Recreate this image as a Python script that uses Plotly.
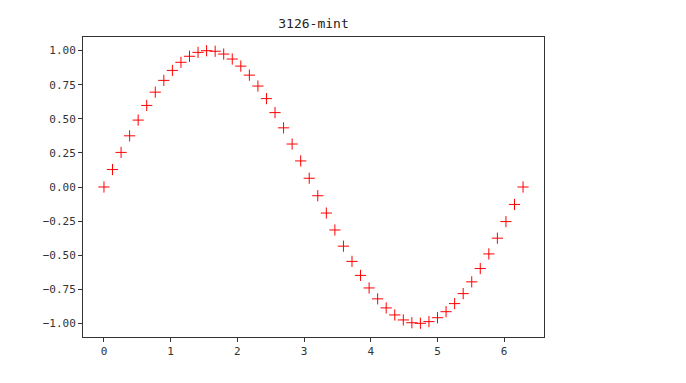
import plotly.graph_objects as go

x_vals = [0.0, 0.1282, 0.2565, 0.3847, 0.5129, 0.6411, 0.7694, 0.8976, 1.0258, 1.1541,
          1.2823, 1.4105, 1.5387, 1.6670, 1.7952, 1.9234, 2.0517, 2.1799, 2.3081, 2.4363,
          2.5646, 2.6928, 2.8210, 2.9493, 3.0775, 3.2057, 3.3339, 3.4622, 3.5904, 3.7186,
          3.8468, 3.9751, 4.1033, 4.2315, 4.3598, 4.4880, 4.6162, 4.7444, 4.8727, 5.0009,
          5.1291, 5.2574, 5.3856, 5.5138, 5.6420, 5.7703, 5.8985, 6.0267, 6.1550, 6.2832]
y_vals = [0.0, 0.1279, 0.2537, 0.3753, 0.4907, 0.5981, 0.6956, 0.7818, 0.8551, 0.9144,
          0.9587, 0.9872, 0.9995, 0.9954, 0.9749, 0.9383, 0.8866, 0.8204, 0.7402, 0.6482,
          0.5455, 0.4339, 0.3151, 0.1912, 0.0641, -0.0641, -0.1912, -0.3151, -0.4339, -0.5455,
          -0.6482, -0.7402, -0.8204, -0.8866, -0.9383, -0.9749, -0.9954, -0.9995, -0.9872, -0.9587,
          -0.9144, -0.8551, -0.7818, -0.6956, -0.5981, -0.4907, -0.3753, -0.2537, -0.1279, 0.0]
title_text = "3126-mint"
x_ticks = [0, 1, 2, 3, 4, 5, 6]
y_ticks = [-1.0, -0.75, -0.5, -0.25, 0.0, 0.25, 0.5, 0.75, 1.0]

fig = go.Figure()
fig.add_trace(go.Scatter(
    x=x_vals, y=y_vals, mode="markers",
    marker=dict(symbol="cross-thin", size=8, line=dict(color="red", width=1), color="red"),
    showlegend=False,
))

font_family = "DejaVu Sans Mono, Noto Sans CJK SC"
fig.update_layout(
    width=686, height=383,
    margin=dict(l=83, r=142, t=37, b=46),
    plot_bgcolor="white", paper_bgcolor="white",
    title=dict(text=title_text, x=0.457, xanchor="center", y=0.94, yanchor="middle",
               font=dict(family=font_family, size=13, color="#222")),
    font=dict(family=font_family, size=11, color="#333"),
)
fig.update_xaxes(
    range=[-0.3142, 6.5973], tickvals=x_ticks, showgrid=False, zeroline=False,
    showline=True, linecolor="#333", linewidth=1, mirror=True,
    ticks="outside", ticklen=4, tickcolor="#333",
)
fig.update_yaxes(
    range=[-1.1, 1.1], tickvals=y_ticks, tickformat=".2f", showgrid=False, zeroline=False,
    showline=True, linecolor="#333", linewidth=1, mirror=True,
    ticks="outside", ticklen=4, tickcolor="#333",
)

fig.write_html("out.html")
